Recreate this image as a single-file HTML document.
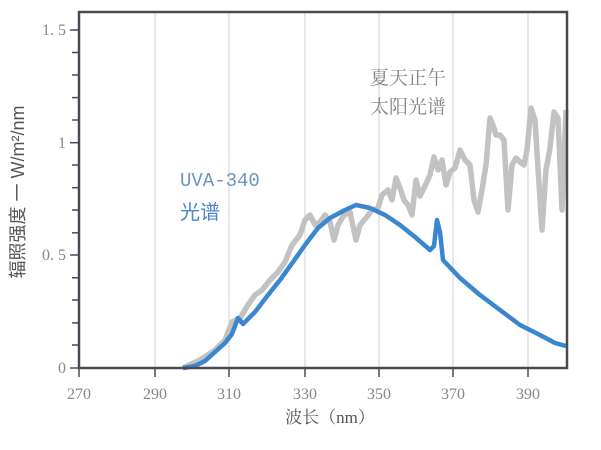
<!DOCTYPE html>
<html><head><meta charset="utf-8"><style>
body{margin:0;background:#fff}
text{font-family:"Liberation Serif","Noto Serif CJK SC",serif}
</style></head><body>
<svg width="601" height="445" viewBox="0 0 601 445" xmlns="http://www.w3.org/2000/svg">
<rect width="601" height="445" fill="#fff"/>
<g stroke="#d8d8d8" stroke-width="1.2">
<line x1="155" y1="12" x2="155" y2="368"/><line x1="229" y1="12" x2="229" y2="368"/>
<line x1="305" y1="12" x2="305" y2="368"/><line x1="379" y1="12" x2="379" y2="368"/>
<line x1="453" y1="12" x2="453" y2="368"/><line x1="528" y1="12" x2="528" y2="368"/>
</g>
<polyline fill="none" stroke="#c2c2c2" stroke-width="5.5" stroke-linejoin="round" points="183,368 200,360 215,350 225,340 232,322 240,318 248,305 255,295 262,290 270,280 278,272 285,262 292,245 300,235 305,220 310,215 315,225 320,222 325,215 330,222 334,240 338,225 344,215 350,212 356,240 360,225 366,218 372,210 378,208 382,195 388,190 392,200 396,178 400,188 404,200 408,205 412,215 416,180 420,196 425,186 430,175 434,157 438,170 442,160 446,185 450,172 455,168 460,150 465,160 470,165 474,200 478,212 482,190 486,165 490,118 494,128 496,135 500,135 504,140 508,210 512,165 516,158 520,162 524,165 527,150 531,108 535,120 538,168 542,230 546,170 550,148 554,112 558,118 562,210 564,160 566,110"/>
<polyline fill="none" stroke="#3a86d0" stroke-width="4.5" stroke-linejoin="round" points="183,368 195,366 205,361 215,352 225,343 232,334 238,318 243,324 255,312 268,295 280,280 293,262 305,245 318,228 330,218 345,210 356,205 370,208 385,215 400,225 415,237 430,250 434,246 437,220 440,232 443,260 460,278 480,295 500,310 520,325 540,335 555,343 566,346"/>
<rect x="79" y="12" width="488" height="356" fill="none" stroke="#4a4a55" stroke-width="2.5"/>
<g stroke="#4a4a55" stroke-width="1.5">
<line x1="70" y1="30" x2="79" y2="30"/><line x1="72" y1="52.5" x2="79" y2="52.5"/><line x1="72" y1="75" x2="79" y2="75"/><line x1="72" y1="97.6" x2="79" y2="97.6"/><line x1="72" y1="120" x2="79" y2="120"/>
<line x1="70" y1="142.7" x2="79" y2="142.7"/><line x1="72" y1="165" x2="79" y2="165"/><line x1="72" y1="187.7" x2="79" y2="187.7"/><line x1="72" y1="210" x2="79" y2="210"/><line x1="72" y1="232.8" x2="79" y2="232.8"/>
<line x1="70" y1="255" x2="79" y2="255"/><line x1="72" y1="277.8" x2="79" y2="277.8"/><line x1="72" y1="300" x2="79" y2="300"/><line x1="72" y1="322.9" x2="79" y2="322.9"/><line x1="72" y1="345" x2="79" y2="345"/><line x1="70" y1="368" x2="79" y2="368"/>
<line x1="79" y1="368" x2="79" y2="377"/><line x1="155" y1="368" x2="155" y2="377"/><line x1="229" y1="368" x2="229" y2="377"/><line x1="305" y1="368" x2="305" y2="377"/><line x1="379" y1="368" x2="379" y2="377"/><line x1="453" y1="368" x2="453" y2="377"/><line x1="528" y1="368" x2="528" y2="377"/>
</g>
<g fill="#888" font-size="16" text-anchor="end">
<text x="66" y="35">1. 5</text><text x="66" y="148">1</text><text x="66" y="260">0. 5</text><text x="66" y="373">0</text>
</g>
<g fill="#888" font-size="16" text-anchor="middle">
<text x="79" y="399">270</text><text x="155" y="399">290</text><text x="229" y="399">310</text><text x="305" y="399">330</text><text x="379" y="399">350</text><text x="453" y="399">370</text><text x="528" y="399">390</text>
</g>
<text x="330" y="423" fill="#555" font-size="17" text-anchor="middle">波长（nm）</text>
<text transform="translate(24,192) rotate(-90)" fill="#555" font-size="18" text-anchor="middle" style="font-family:'Liberation Sans','Noto Sans CJK SC',sans-serif">辐照强度 一 W/m²/nm</text>
<text x="180" y="186" fill="#6a95c2" font-size="19" style="font-family:'Liberation Mono',monospace">UVA-340</text>
<text x="180" y="219" fill="#4a86c8" font-size="20" style="font-family:'Liberation Sans','Noto Sans CJK SC',sans-serif">光谱</text>
<text x="370" y="84" fill="#858585" font-size="19">夏天正午</text>
<text x="370" y="113" fill="#858585" font-size="19">太阳光谱</text>
</svg>
</body></html>
